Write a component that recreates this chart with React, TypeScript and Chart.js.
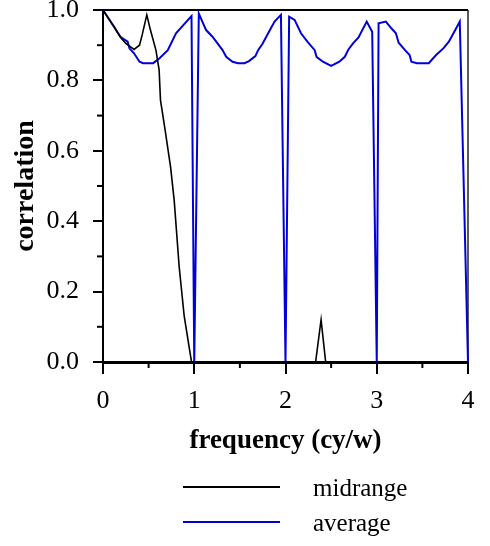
import React, { useEffect, useRef } from "react";
import { Chart, registerables } from "chart.js";

Chart.register(...registerables);

// ---- data ----
const midrangeX = [0, 0.1, 0.2, 0.25, 0.34, 0.4, 0.43, 0.48, 0.52, 0.58, 0.615, 0.63, 0.68, 0.74, 0.78, 0.835, 0.89, 0.97, 1.0, 2.33, 2.39, 2.44, 4.0];
const midrangeY = [1.0, 0.96, 0.92, 0.905, 0.888, 0.9, 0.93, 0.986, 0.943, 0.886, 0.83, 0.744, 0.66, 0.555, 0.46, 0.27, 0.13, 0.0, 0.0, 0.0, 0.12, 0.0, 0.0];

const averageX = [0, 0.12, 0.19, 0.27, 0.29, 0.34, 0.4, 0.44, 0.55, 0.62, 0.71, 0.8, 0.88, 0.97, 1.0, 1.05, 1.13, 1.2, 1.31, 1.35, 1.42, 1.48, 1.55, 1.6, 1.67, 1.7, 1.75, 1.81, 1.88, 1.95, 2.0, 2.04, 2.1, 2.17, 2.24, 2.32, 2.34, 2.41, 2.5, 2.59, 2.65, 2.69, 2.74, 2.8, 2.89, 2.95, 3.0, 3.02, 3.1, 3.16, 3.21, 3.24, 3.31, 3.36, 3.38, 3.44, 3.57, 3.65, 3.73, 3.79, 3.85, 3.91, 4.0];
const averageY = [1.0, 0.953, 0.924, 0.91, 0.891, 0.877, 0.853, 0.849, 0.849, 0.863, 0.886, 0.934, 0.957, 0.983, 0.0, 0.99, 0.943, 0.924, 0.886, 0.867, 0.853, 0.849, 0.849, 0.855, 0.869, 0.886, 0.905, 0.934, 0.967, 0.986, 0.0, 0.981, 0.972, 0.934, 0.91, 0.886, 0.867, 0.853, 0.841, 0.853, 0.867, 0.888, 0.905, 0.922, 0.967, 0.938, 0.0, 0.962, 0.967, 0.948, 0.934, 0.907, 0.886, 0.872, 0.853, 0.849, 0.849, 0.872, 0.891, 0.91, 0.938, 0.967, 0.0];

const xMinorTicks = [0.5, 1.5, 2.5, 3.5];
const yMinorTicks = [0.1, 0.3, 0.5, 0.7, 0.9];
const seriesLabels = ["midrange", "average"];
const seriesColors = ["#000000", "#0000d8"];
const seriesWidths = [1.6, 2];
const xTitle = "frequency (cy/w)";
const yTitle = "correlation";

const FONT = "'Liberation Serif', 'Times New Roman', serif";

const framePlugin = {
  id: "frame",
  beforeDatasetsDraw(chart: any) {
    const { ctx, chartArea } = chart;
    ctx.save();
    ctx.strokeStyle = "#000";
    ctx.lineWidth = 2;
    ctx.beginPath();
    ctx.moveTo(chartArea.left, chartArea.top);
    ctx.lineTo(chartArea.right, chartArea.top);
    ctx.stroke();
    ctx.lineWidth = 1.3;
    ctx.beginPath();
    ctx.moveTo(chartArea.right, chartArea.top);
    ctx.lineTo(chartArea.right, chartArea.bottom);
    ctx.stroke();
    ctx.restore();
  },
};

const minorTickPlugin = {
  id: "minorTicks",
  afterDraw(chart: any) {
    const { ctx, chartArea, scales } = chart;
    ctx.save();
    ctx.strokeStyle = "#000";
    ctx.lineWidth = 2;
    for (const v of xMinorTicks) {
      const px = scales.x.getPixelForValue(v);
      ctx.beginPath();
      ctx.moveTo(px, chartArea.bottom);
      ctx.lineTo(px, chartArea.bottom + 6);
      ctx.stroke();
    }
    for (const v of yMinorTicks) {
      const py = scales.y.getPixelForValue(v);
      ctx.beginPath();
      ctx.moveTo(chartArea.left, py);
      ctx.lineTo(chartArea.left - 6, py);
      ctx.stroke();
    }
    ctx.restore();
  },
};

const legendPlugin = {
  id: "customLegend",
  afterDraw(chart: any) {
    const { ctx } = chart;
    const lineX0 = 183;
    const lineX1 = 280;
    const textX = 313;
    const rowY = [487, 522];
    ctx.save();
    chart.data.datasets.forEach((ds: any, i: number) => {
      ctx.strokeStyle = ds.borderColor;
      ctx.lineWidth = 2;
      ctx.beginPath();
      ctx.moveTo(lineX0, rowY[i]);
      ctx.lineTo(lineX1, rowY[i]);
      ctx.stroke();
      ctx.fillStyle = "#000";
      ctx.font = `25px ${FONT}`;
      ctx.textBaseline = "middle";
      ctx.textAlign = "left";
      ctx.fillText(ds.label, textX, rowY[i] + 2);
    });
    ctx.restore();
  },
};

export default function App() {
  const ref = useRef<HTMLCanvasElement | null>(null);

  useEffect(() => {
    document.body.style.margin = "0";
    if (!ref.current) return;
    const toPts = (xs: number[], ys: number[]) => xs.map((x, i) => ({ x, y: ys[i] }));
    const chart = new Chart(ref.current, {
      type: "line",
      data: {
        datasets: [
          {
            label: seriesLabels[0],
            data: toPts(midrangeX, midrangeY),
            borderColor: seriesColors[0],
            borderWidth: seriesWidths[0],
            pointRadius: 0,
            tension: 0,
            clip: 4,
          },
          {
            label: seriesLabels[1],
            data: toPts(averageX, averageY),
            borderColor: seriesColors[1],
            borderWidth: seriesWidths[1],
            pointRadius: 0,
            tension: 0,
            clip: 4,
          },
        ],
      },
      options: {
        responsive: false,
        animation: false,
        events: [],
        layout: { padding: { top: 10, right: 22, bottom: 86, left: 0 } },
        plugins: { legend: { display: false }, tooltip: { enabled: false } },
        scales: {
          x: {
            type: "linear",
            min: 0,
            max: 4,
            ticks: {
              stepSize: 1,
              color: "#000",
              font: { family: FONT, size: 26 },
              padding: 12,
              maxRotation: 0,
            },
            grid: { drawOnChartArea: false, tickLength: 12, color: "#000", lineWidth: 2 },
            border: { display: true, color: "#000", width: 3 },
            title: {
              display: true,
              text: xTitle,
              color: "#000",
              font: { family: FONT, size: 27, weight: "bold" },
              padding: { top: 0, bottom: 3 },
            },
            afterFit(scale: any) {
              scale.height = 98;
              scale.paddingLeft = 0;
              scale.paddingRight = 0;
            },
          },
          y: {
            type: "linear",
            min: 0,
            max: 1,
            ticks: {
              stepSize: 0.2,
              color: "#000",
              font: { family: FONT, size: 26 },
              padding: 14,
              callback: (v: any) => Number(v).toFixed(1),
            },
            grid: { drawOnChartArea: false, tickLength: 10, color: "#000", lineWidth: 2 },
            border: { display: true, color: "#000", width: 2 },
            title: {
              display: true,
              text: yTitle,
              color: "#000",
              font: { family: FONT, size: 28, weight: "bold" },
              padding: { top: 9, bottom: 0 },
            },
            afterFit(scale: any) {
              scale.width = 103;
              scale.paddingTop = 0;
              scale.paddingBottom = 0;
            },
          },
        },
      },
      plugins: [framePlugin, minorTickPlugin, legendPlugin],
    } as any);
    return () => chart.destroy();
  }, []);

  return (
    <div style={{ width: 490, height: 546 }}>
      <canvas ref={ref} width={490} height={546} style={{ display: "block" }} />
    </div>
  );
}
